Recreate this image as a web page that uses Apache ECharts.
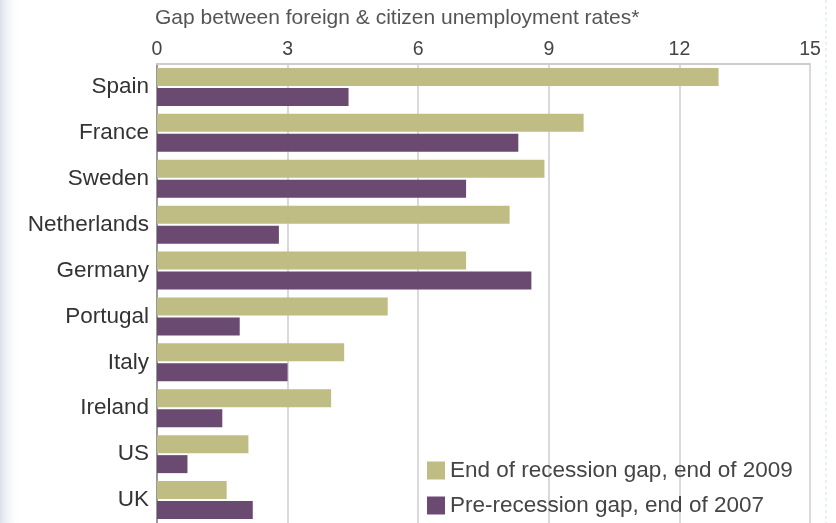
<!DOCTYPE html>
<html lang="en">
<head>
    <meta charset="utf-8"/>
    <title>Foreign vs citizen unemployment gap</title>
    <script src="https://cdn.jsdelivr.net/npm/echarts@6/dist/echarts.min.js"></script>
    <style>
        html, body { margin: 0; padding: 0; background: #fff; }
        #chart { width: 836px; height: 523px; }
    </style>
</head>
<body>
    <div id="chart"></div>
    <script>
        // categories, top to bottom
        const countries = ['Spain', 'France', 'Sweden', 'Netherlands', 'Germany',
            'Portugal', 'Italy', 'Ireland', 'US', 'UK'];
        const gap2009 = [12.9, 9.8, 8.9, 8.1, 7.1, 5.3, 4.3, 4.0, 2.1, 1.6];
        const gap2007 = [4.4, 8.3, 7.1, 2.8, 8.6, 1.9, 3.0, 1.5, 0.7, 2.2];
        const xTicks = [0, 3, 6, 9, 12, 15];

        const chart = echarts.init(document.getElementById('chart'));
        const fontFamily = '"Liberation Sans", Arial, sans-serif';

        const option = {
            backgroundColor: '#fff',
            animation: false,
            textStyle: { fontFamily: fontFamily },
            title: {
                text: 'Gap between foreign & citizen unemployment rates*',
                left: 150,
                top: 3,
                textStyle: { fontSize: 21, fontWeight: 'normal', color: '#555', fontFamily: fontFamily }
            },
            graphic: [
                {
                    type: 'rect',
                    left: 0, top: 0, z: -10,
                    shape: { width: 20, height: 523 },
                    style: {
                        fill: {
                            type: 'linear', x: 0, y: 0, x2: 1, y2: 0,
                            colorStops: [
                                { offset: 0, color: 'rgba(215,222,235,0.9)' },
                                { offset: 1, color: 'rgba(255,255,255,0)' }
                            ]
                        }
                    }
                },
                {
                    type: 'line',
                    z: -10,
                    shape: { x1: 826, y1: 0, x2: 826, y2: 523 },
                    style: { stroke: '#cfe0f2', lineWidth: 1, lineDash: [3, 3] }
                }
            ],
            legend: {
                orient: 'vertical',
                left: 422,
                top: 454,
                itemWidth: 18,
                itemHeight: 18,
                itemGap: 12,
                icon: 'rect',
                textStyle: { fontSize: 22.5, color: '#444', fontFamily: fontFamily },
                data: ['End of recession gap, end of 2009', 'Pre-recession gap, end of 2007']
            },
            grid: {
                left: 157,
                right: 26,
                top: 64,
                bottom: 0,
                containLabel: false
            },
            xAxis: {
                type: 'value',
                position: 'top',
                min: xTicks[0],
                max: xTicks[xTicks.length - 1],
                interval: 3,
                axisLine: { show: true, lineStyle: { color: '#ccc', width: 2 } },
                axisTick: { show: false },
                axisLabel: { fontSize: 19.5, color: '#444', margin: 4 },
                splitLine: { show: true, lineStyle: { color: '#ccc', width: 1.5 } }
            },
            yAxis: {
                type: 'category',
                inverse: true,
                data: countries,
                axisLine: { show: true, lineStyle: { color: '#999', width: 2 } },
                axisTick: { show: false },
                axisLabel: { fontSize: 22.5, color: '#333', margin: 8 }
            },
            series: [
                {
                    name: 'End of recession gap, end of 2009',
                    type: 'bar',
                    data: gap2009,
                    barWidth: 18,
                    barGap: '11%',
                    itemStyle: { color: '#bfbc84' }
                },
                {
                    name: 'Pre-recession gap, end of 2007',
                    type: 'bar',
                    data: gap2007,
                    barWidth: 18,
                    itemStyle: { color: '#6a4a70' }
                }
            ]
        };
        chart.setOption(option);
    </script>
</body>
</html>
